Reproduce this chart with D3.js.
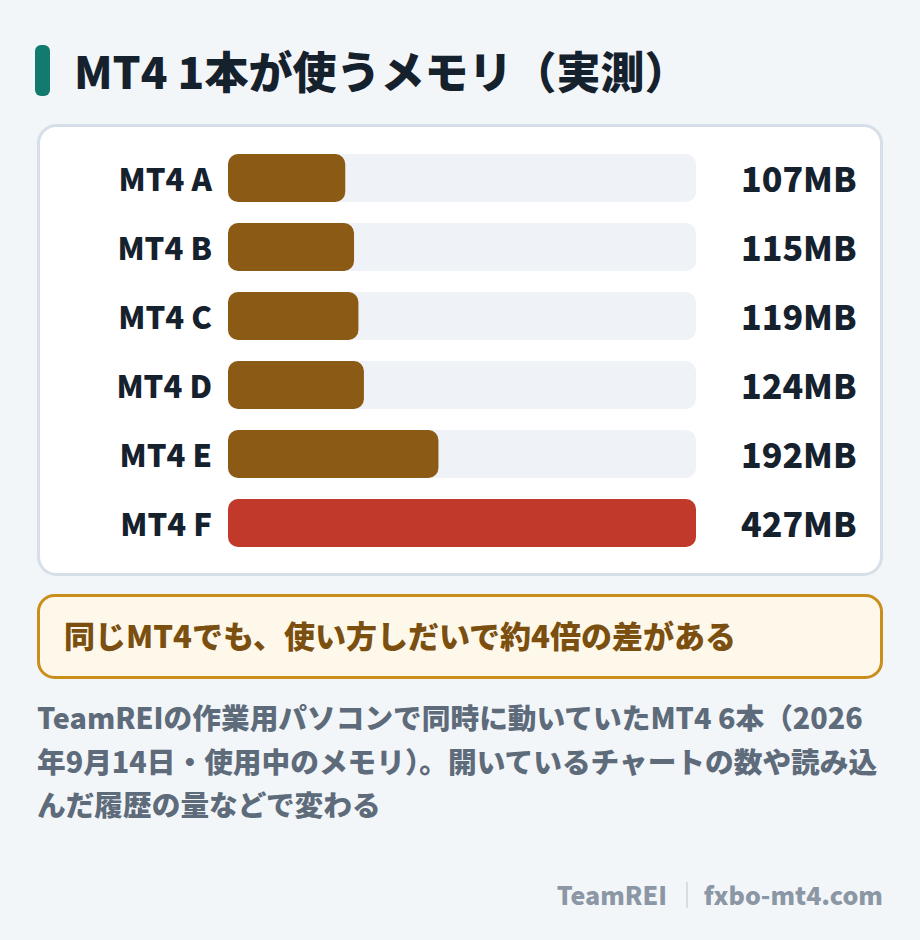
<!DOCTYPE html>
<html><head><meta charset="utf-8">
<script src="https://cdn.jsdelivr.net/npm/d3@7"></script>
<style>html,body{margin:0;padding:0;background:#f3f6f9;}svg{display:block;}</style>
</head><body>
<script>
const categories = ["MT4 A","MT4 B","MT4 C","MT4 D","MT4 E","MT4 F"];
const values = [107,115,119,124,192,427];
const valueLabels = ["107MB","115MB","119MB","124MB","192MB","427MB"];
const highlight = ["MT4 F"];
const title = "MT4 1本が使うメモリ（実測）";
const callout = "同じMT4でも、使い方しだいで約4倍の差がある";
const noteLines = ["TeamREIの作業用パソコンで同時に動いていたMT4 6本（2026","年9月14日・使用中のメモリ）。開いているチャートの数や読み込","んだ履歴の量などで変わる"];
const footerLeft = "TeamREI", footerRight = "fxbo-mt4.com";

const W=920,H=940;
const font = "'Noto Sans CJK JP','Noto Sans',sans-serif";
const svg = d3.select("body").append("svg").attr("width",W).attr("height",H).style("font-family",font);
svg.append("rect").attr("width",W).attr("height",H).attr("fill","#f3f6f9");

// title
svg.append("rect").attr("x",35).attr("y",45).attr("width",15).attr("height",51).attr("rx",6).attr("fill","#127a6e");
svg.append("text").attr("x",74).attr("y",89).attr("font-size",44).attr("font-weight",900).attr("fill","#16212e").text(title);

// card
svg.append("rect").attr("x",38.5).attr("y",125.5).attr("width",843).attr("height",449).attr("rx",18)
  .attr("fill","#fff").attr("stroke","#d6dfe8").attr("stroke-width",3);

const x = d3.scaleLinear().domain([0,d3.max(values)]).range([228,696]);
const y = d3.scaleBand().domain(categories).range([154,154+69*6-21]).paddingInner(21/69);

const rows = svg.append("g").selectAll("g").data(categories).join("g");
rows.append("rect").attr("x",x(0)).attr("y",d=>y(d)).attr("width",x.range()[1]-x(0)).attr("height",y.bandwidth()).attr("rx",10).attr("fill","#eff3f8");
rows.append("rect").attr("x",x(0)).attr("y",d=>y(d)).attr("width",(d,i)=>x(values[i])-x(0)).attr("height",y.bandwidth()).attr("rx",10)
  .attr("fill",d=>highlight.includes(d)?"#c0392b":"#8b5a14");
rows.append("text").attr("x",212).attr("y",d=>y(d)+y.bandwidth()/2+2).attr("dy","0.36em").attr("text-anchor","end")
  .attr("font-size",31).attr("font-weight",900).attr("fill","#16212e").text(d=>d);
rows.append("text").attr("x",741).attr("y",d=>y(d)+y.bandwidth()/2+2).attr("dy","0.36em")
  .attr("font-size",34).attr("font-weight",900).attr("fill","#16212e").text((d,i)=>valueLabels[i]);

// callout
svg.append("rect").attr("x",38.5).attr("y",595.5).attr("width",843).attr("height",82).attr("rx",16)
  .attr("fill","#fef8ea").attr("stroke","#c98e1b").attr("stroke-width",3);
svg.append("text").attr("x",64).attr("y",648).attr("font-size",31).attr("font-weight",900).attr("fill","#7a4f10").text(callout);

// note
svg.append("g").selectAll("text").data(noteLines).join("text")
  .attr("x",37).attr("y",(d,i)=>729+i*43.5).attr("font-size",28.7).attr("font-weight",900).attr("fill","#5e6b7a").text(d=>d);

// footer
svg.append("text").attr("x",883).attr("y",905).attr("text-anchor","end").attr("font-size",25).attr("font-weight",900).attr("fill","#8b97a4").text(footerRight);
svg.append("text").attr("x",667).attr("y",905).attr("text-anchor","end").attr("font-size",25).attr("font-weight",900).attr("fill","#8b97a4").text(footerLeft);
svg.append("line").attr("x1",687).attr("x2",687).attr("y1",882).attr("y2",908).attr("stroke","#cdd4dc").attr("stroke-width",1.5);
</script>
</body></html>
